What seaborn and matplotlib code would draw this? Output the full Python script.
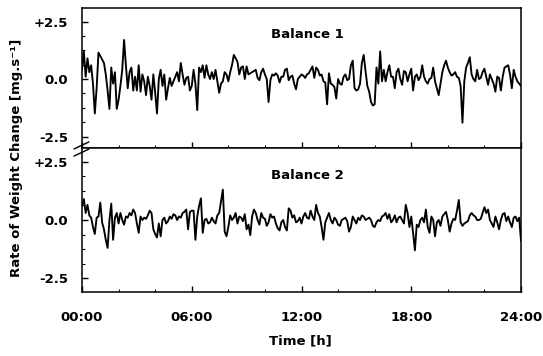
import numpy as np
import pandas as pd
import matplotlib
matplotlib.use("Agg")
import matplotlib.pyplot as plt
import seaborn as sns
from matplotlib.ticker import MultipleLocator, FixedLocator

# ---- data (one row per hour, 0.1 h steps) ----
balance1 = [
    0.4, 1.2, 0.1, 0.9, 0.3, 0.6, -0.2, -1.5, -0.4, 1.15,
    1.0, 0.85, 0.7, 0.2, -0.5, -1.3, 0.5, -0.2, 0.3, -1.3,
    -0.9, -0.3, 0.4, 1.7, 0.6, -0.4, 0.3, 0.5, -0.5, 0.1,
    -0.5, 0.6, -0.55, 0.2, -0.1, -0.7, 0.1, -0.3, -0.9, 0.2,
    -0.6, -1.5, 0.0, 0.4, -0.3, 0.2, -0.9, -0.4, 0.05, -0.3,
    -0.1, 0.1, 0.3, -0.1, 0.7, 0.2, -0.25, 0.05, 0.1, -0.5,
    -0.3, 0.4, -0.2, -1.35, 0.5, 0.3, 0.6, 0.05, 0.6, 0.2,
    0.0, 0.3, 0.0, 0.4, -0.1, -0.6, -0.2, -0.1, 0.3, 0.2,
    -0.1, 0.3, 0.6, 1.05, 0.9, 0.75, 0.2, 0.5, 0.55, 0.0,
    0.55, 0.2, 0.25, 0.3, 0.35, 0.4, 0.05, -0.05, 0.3, 0.45,
    0.2, 0.0, -1.0, -0.05, 0.2, 0.15, 0.25, 0.15, -0.15, 0.1,
    0.1, 0.4, 0.45, -0.05, 0.1, 0.15, -0.2, -0.45, 0.0, 0.1,
    0.2, 0.15, 0.05, 0.2, 0.25, 0.4, 0.55, 0.05, 0.5, 0.4,
    0.15, 0.2, -0.1, -0.15, -1.1, 0.25, -0.2, -0.25, -0.35, -0.85,
    0.0, -0.2, -0.25, 0.1, 0.2, -0.05, 0.0, 0.6, 0.8, -0.4,
    -0.5, -0.45, -0.2, 0.7, 1.05, 0.35, -0.3, -0.55, -1.0, -1.15,
    -1.1, 0.5, -0.2, 1.2, -0.1, 0.4, -0.1, 0.3, 0.6, 0.1,
    0.1, -0.4, 0.3, 0.45, 0.0, -0.25, 0.35, 0.3, -0.1, 0.2,
    0.45, -0.5, 0.1, 0.2, -0.05, 0.1, 0.6, 0.1, -0.1, -0.2,
    0.0, 0.05, 0.5, -0.1, -0.4, -0.7, -0.2, 0.3, 0.6, 0.8,
    0.5, 0.3, 0.15, 0.2, 0.3, 0.1, 0.05, -0.3, -1.9, -0.1,
    0.5, 0.7, 0.95, 0.2, 0.0, -0.1, 0.4, 0.0, 0.05, 0.3,
    0.45, 0.1, -0.25, 0.2, 0.0, -0.2, -0.55, 0.1, 0.05, -0.5,
    0.1, 0.5, 0.55, 0.6, 0.2, -0.4, 0.4, 0.1, -0.1, -0.2,
    -0.3,
]

balance2 = [
    0.6, 0.9, 0.3, 0.65, 0.2, 0.1, -0.3, -0.6, 0.1, 0.15,
    0.75, -0.1, -0.4, -0.85, -1.2, 0.0, 0.7, -0.85, 0.1, 0.3,
    -0.15, 0.3, 0.0, -0.2, 0.15, 0.1, 0.3, 0.2, 0.45, 0.3,
    -0.15, -0.55, 0.15, 0.0, 0.1, 0.05, 0.2, 0.4, 0.3, -0.4,
    -0.6, -0.75, -0.15, -0.7, 0.0, 0.1, -0.15, -0.05, 0.15, 0.05,
    0.25, 0.2, 0.0, 0.15, 0.1, 0.3, 0.35, 0.45, -0.4, 0.35,
    0.4, 0.4, -0.85, 0.15, 0.6, 0.93, -0.55, 0.0, 0.05, -0.15,
    -0.1, 0.1, -0.05, -0.15, 0.2, 0.3, 0.8, 1.3, -0.5, -0.7,
    -0.3, 0.2, 0.0, 0.1, 0.3, -0.15, 0.15, 0.1, -0.05, 0.25,
    -0.4, -0.2, -0.65, 0.15, 0.45, 0.3, 0.0, -0.2, 0.3, 0.1,
    0.05, -0.25, -0.1, 0.25, 0.1, 0.15, -0.15, -0.35, -0.45, -0.1,
    0.0, -0.3, -0.45, 0.5, 0.4, 0.1, 0.2, -0.1, -0.05, 0.1,
    -0.15, 0.15, 0.3, 0.1, 0.05, 0.4, 0.15, 0.0, 0.65, 0.3,
    0.15, -0.3, -0.85, -0.1, 0.1, 0.3, 0.0, -0.15, 0.1, 0.0,
    -0.2, -0.25, 0.0, 0.05, 0.1, -0.05, -0.5, -0.3, 0.15, 0.0,
    -0.15, 0.1, 0.0, 0.2, 0.15, 0.0, 0.05, 0.1, 0.0, -0.25,
    -0.3, -0.1, 0.0, -0.05, 0.15, 0.2, 0.3, 0.05, 0.25, -0.1,
    0.0, 0.2, -0.1, 0.1, 0.15, 0.0, -0.15, 0.65, 0.3, -0.3,
    0.15, -0.55, -1.3, -0.2, -0.3, 0.0, 0.1, -0.1, 0.45, -0.3,
    -0.55, 0.15, 0.0, -0.7, -0.1, 0.0, -0.25, 0.15, 0.25, 0.35,
    0.0, -0.5, -0.15, 0.05, 0.0, 0.4, 0.86, -0.1, -0.25, -0.15,
    -0.1, -0.05, 0.2, 0.3, 0.2, 0.15, 0.0, 0.0, 0.05, 0.3,
    0.55, 0.3, 0.45, 0.0, -0.15, -0.3, 0.15, -0.1, -0.4, 0.0,
    0.25, 0.3, -0.05, 0.15, -0.1, -0.3, 0.1, 0.15, -0.05, 0.1,
    -0.9,
]

panel_titles = ["Balance 1", "Balance 2"]
x_tick_hours = [0, 6, 12, 18, 24]
x_tick_labels = ["00:00", "06:00", "12:00", "18:00", "24:00"]
y_tick_values = [-2.5, 0.0, 2.5]
y_tick_labels = ["-2.5", "0.0", "+2.5"]

time_h = np.linspace(0, 24, len(balance1))

# ---- styling ----
sns.set_style("ticks")
plt.rcParams["font.family"] = ["DejaVu Sans"]
plt.rcParams["font.weight"] = "bold"
plt.rcParams["text.color"] = "black"
plt.rcParams["xtick.color"] = "black"
plt.rcParams["ytick.color"] = "black"
plt.rcParams["xtick.labelcolor"] = "black"
plt.rcParams["ytick.labelcolor"] = "black"

W, H = 543, 356
fig = plt.figure(figsize=(W / 100, H / 100), dpi=100)

left = 82 / W
width = (521 - 82) / W
ax1 = fig.add_axes([left, (H - 148) / H, width, (148 - 8) / H])
ax2 = fig.add_axes([left, (H - 292) / H, width, (292 - 148) / H])

for ax, vals, title, ylim in [
    (ax1, balance1, panel_titles[0], (-3.0, 3.09)),
    (ax2, balance2, panel_titles[1], (-3.09, 3.09)),
]:
    df = pd.DataFrame({"t": time_h, "v": vals})
    sns.lineplot(data=df, x="t", y="v", ax=ax, color="black", linewidth=1.35)
    ax.set_xlim(0, 24)
    ax.set_ylim(*ylim)
    ax.set_xlabel("")
    ax.set_ylabel("")
    ax.yaxis.set_major_locator(FixedLocator(y_tick_values))
    ax.set_yticklabels(y_tick_labels, fontsize=9.5, fontweight="bold", color="black")
    ax.yaxis.set_minor_locator(MultipleLocator(0.625))
    ax.xaxis.set_major_locator(FixedLocator(x_tick_hours))
    ax.xaxis.set_minor_locator(MultipleLocator(2))
    ax.tick_params(axis="both", which="major", direction="in", length=4, width=1.0,
                   color="black")
    ax.tick_params(axis="both", which="minor", direction="in", length=2.5, width=0.8,
                   color="black")
    ax.tick_params(axis="y", which="major", pad=10, labelsize=9.5)
    for s in ax.spines.values():
        s.set_linewidth(1.1)
        s.set_color("black")
        s.set_visible(True)
    ax.text(0.513, 0.81, title, transform=ax.transAxes, ha="center", va="center",
            fontsize=9.5, fontweight="bold", color="black")

ax1.set_xticklabels([])
ax2.set_xticklabels(x_tick_labels, fontsize=9.5, fontweight="bold", color="black")
ax2.tick_params(axis="x", which="major", pad=14)

# axis break marks on the left spine
for dy in (-0.010, 0.010):
    fig.add_artist(plt.Line2D([74 / W, 89 / W],
                              [(H - 149) / H + dy - 0.010, (H - 149) / H + dy + 0.010],
                              color="black", linewidth=1.0))

fig.text(17 / W, (H - 158) / H, "Rate of Weight Change [mg.s\u207b\u00b9]",
         rotation=90, ha="center", va="center", fontsize=9.5, fontweight="bold",
         color="black")
fig.text(300 / W, (H - 341) / H, "Time [h]", ha="center", va="center",
         fontsize=9.5, fontweight="bold", color="black")

fig.savefig("out.png", dpi=100)
